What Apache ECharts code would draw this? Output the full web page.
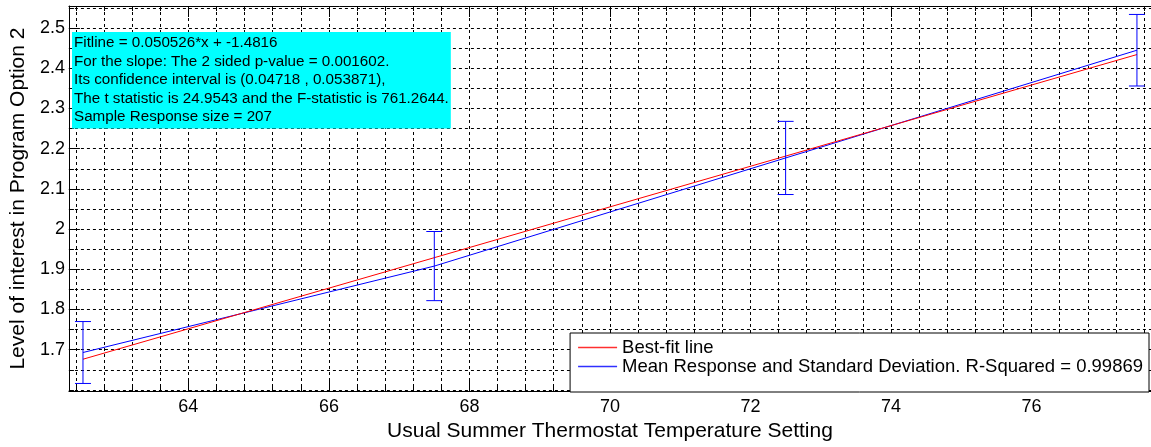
<!DOCTYPE html>
<html>
<head>
<meta charset="utf-8">
<script src="https://cdn.jsdelivr.net/npm/echarts@6/dist/echarts.min.js"></script>
<style>
html,body{margin:0;padding:0;background:#fff;}
#chart{width:1151px;height:447px;}
</style>
</head>
<body>
<div id="chart"></div>
<script>
// ---- data ----
var xValues = [62.5, 67.5, 72.5, 77.5];
var meanResponse = [1.693, 1.908, 2.177, 2.445];
var errLower = [1.616, 1.822, 2.086, 2.356];
var errUpper = [1.770, 1.994, 2.268, 2.534];
var fitValues = [1.6763, 1.9289, 2.1816, 2.4342];

var xTickLabels = [64, 66, 68, 70, 72, 74, 76];
var yTickLabels = [1.7, 1.8, 1.9, 2.0, 2.1, 2.2, 2.3, 2.4, 2.5];

var fitName = 'Best-fit line';
var meanName = 'Mean Response and Standard Deviation. R-Squared = 0.99869';
var infoLines = [
  'Fitline = 0.050526*x + -1.4816',
  'For the slope: The 2 sided p-value = 0.001602.',
  'Its confidence interval is (0.04718 , 0.053871),',
  'The t statistic is 24.9543 and the F-statistic is 761.2644.',
  'Sample Response size = 207'
];
var xTitle = 'Usual Summer Thermostat Temperature Setting';
var yTitle = 'Level of interest in Program Option 2';

// ---- axis ranges / minor grid positions ----
var xMin = 62.3, xMax = 77.7;
var yMin = 1.597, yMax = 2.555;
var xMinor = [];
for (var k = 156; k <= 194; k++) xMinor.push(+(k * 0.4).toFixed(1));
var yMinor = [];
for (var j = 32; j <= 51; j++) yMinor.push(+(j * 0.05).toFixed(2));

var FONT = '"Liberation Sans", Arial, sans-serif';

var meanData = xValues.map(function (x, i) { return [x, meanResponse[i]]; });
var fitData = xValues.map(function (x, i) { return [x, fitValues[i]]; });
var errData = xValues.map(function (x, i) { return [x, errLower[i], errUpper[i]]; });

function hiddenAxisBase(extra) {
  return Object.assign({
    type: 'value', gridIndex: 0,
    axisLine: { show: false },
    axisLabel: { show: false },
    splitLine: { show: false }
  }, extra);
}

var chart = echarts.init(document.getElementById('chart'), null, { renderer: 'canvas' });
var option = {
  animation: false,
  backgroundColor: '#ffffff',
  textStyle: { fontFamily: FONT },
  grid: { left: 67, top: 6, width: 1087, height: 388, containLabel: false },
  title: {
    text: infoLines.join('\n'),
    left: 72, top: 32,
    padding: [2, 2, 2, 2],
    backgroundColor: '#00ffff',
    textStyle: { fontFamily: FONT, fontSize: 15.2, lineHeight: 18.5, fontWeight: 'normal', color: '#000' }
  },
  legend: {
    data: [
      { name: fitName, itemStyle: { color: '#ff3030' } },
      { name: meanName, itemStyle: { color: '#3030ff' } }
    ],
    orient: 'vertical',
    right: 2, top: 333,
    padding: [5, 6, 16, 8],
    itemGap: 0,
    itemWidth: 39, itemHeight: 1.5,
    icon: 'rect',
    backgroundColor: '#ffffff',
    borderColor: '#000000', borderWidth: 1, borderRadius: 0,
    textStyle: { fontFamily: FONT, fontSize: 18.5, lineHeight: 16.7, color: '#000' }
  },
  xAxis: [
    {
      type: 'value', position: 'bottom', min: xMin, max: xMax,
      axisLine: { show: true, lineStyle: { color: '#000', width: 1 } },
      axisTick: { show: true, inside: true, length: 11, customValues: xTickLabels, lineStyle: { color: '#000' } },
      axisLabel: { show: true, customValues: xTickLabels, margin: 7, fontSize: 18, color: '#000', fontFamily: FONT },
      splitLine: { show: false },
      name: xTitle, nameLocation: 'middle', nameGap: 27,
      nameTextStyle: { fontSize: 21, color: '#000', fontFamily: FONT }
    },
    hiddenAxisBase({
      position: 'bottom', min: xMin, max: xMax,
      axisTick: { show: true, inside: true, length: 5, customValues: xMinor, lineStyle: { color: '#000' } },
      splitLine: { show: true, lineStyle: { color: '#000', width: 1, type: [3, 3] } }
    }),
    {
      type: 'value', position: 'top', min: xMin, max: xMax,
      axisLine: { show: true, lineStyle: { color: '#000', width: 1 } },
      axisTick: { show: true, inside: true, length: 11, customValues: xTickLabels, lineStyle: { color: '#000' } },
      axisLabel: { show: false },
      splitLine: { show: false }
    },
    hiddenAxisBase({
      position: 'top', min: xMin, max: xMax,
      axisTick: { show: true, inside: true, length: 5, customValues: xMinor, lineStyle: { color: '#000' } }
    })
  ],
  yAxis: [
    {
      type: 'value', position: 'left', min: yMin, max: yMax,
      axisLine: { show: true, lineStyle: { color: '#000', width: 1 } },
      axisTick: { show: true, inside: true, length: 11, customValues: yTickLabels, lineStyle: { color: '#000' } },
      axisLabel: {
        show: true, customValues: yTickLabels, margin: 4, fontSize: 18, color: '#000', fontFamily: FONT,
        formatter: function (v) { return Math.abs(v - 2) < 1e-9 ? '2' : (+v).toFixed(1); }
      },
      splitLine: { show: false },
      name: yTitle, nameLocation: 'middle', nameGap: 38, nameRotate: 90,
      nameTextStyle: { fontSize: 21, color: '#000', fontFamily: FONT }
    },
    hiddenAxisBase({
      position: 'left', min: yMin, max: yMax,
      axisTick: { show: true, inside: true, length: 5, customValues: yMinor, lineStyle: { color: '#000' } },
      splitLine: { show: true, lineStyle: { color: '#000', width: 1, type: [3, 3] } }
    })
  ],
  series: [
    {
      name: meanName, type: 'line', xAxisIndex: 0, yAxisIndex: 0,
      data: meanData, showSymbol: false, symbol: 'none',
      itemStyle: { color: '#0000ff' },
      lineStyle: { color: '#0000ff', width: 1 },
      z: 3
    },
    {
      name: fitName, type: 'line', xAxisIndex: 0, yAxisIndex: 0,
      data: fitData, showSymbol: false, symbol: 'none',
      itemStyle: { color: '#ff0000' },
      lineStyle: { color: '#ff0000', width: 1 },
      z: 3
    },
    {
      name: 'errorbars', type: 'custom', xAxisIndex: 0, yAxisIndex: 0,
      data: errData, z: 4,
      renderItem: function (params, api) {
        var x = api.value(0);
        var lo = api.coord([x, api.value(1)]);
        var hi = api.coord([x, api.value(2)]);
        var hw = 8;
        var st = { stroke: '#0000ff', lineWidth: 1 };
        return {
          type: 'group',
          children: [
            { type: 'line', shape: { x1: lo[0], y1: lo[1], x2: hi[0], y2: hi[1] }, style: st },
            { type: 'line', shape: { x1: lo[0] - hw, y1: lo[1], x2: lo[0] + hw, y2: lo[1] }, style: st },
            { type: 'line', shape: { x1: hi[0] - hw, y1: hi[1], x2: hi[0] + hw, y2: hi[1] }, style: st }
          ]
        };
      }
    }
  ]
};
chart.setOption(option);
</script>
</body>
</html>
